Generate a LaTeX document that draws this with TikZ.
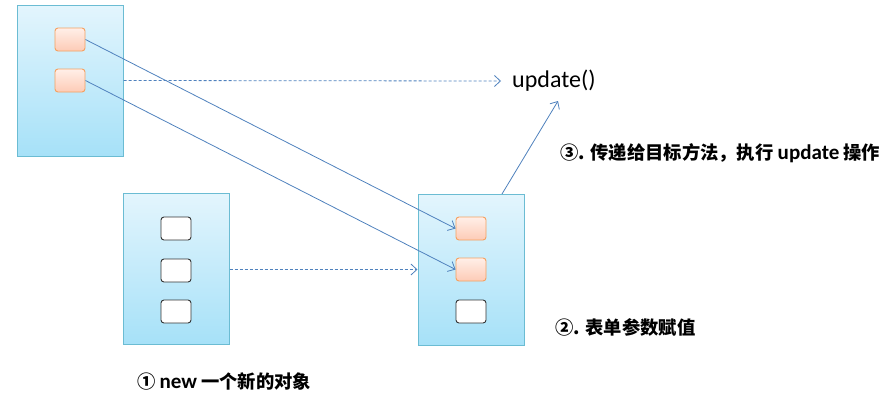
\documentclass[tikz,border=0pt]{standalone}
\usepackage{fontspec}
\usetikzlibrary{arrows.meta,calc}
\setmainfont{Carlito}
\newfontfamily\cjk{Noto Sans CJK SC}
\newfontfamily\latb[Scale=1.15]{Carlito}
\definecolor{lineblue}{HTML}{4F81BD}
\definecolor{boxtop}{HTML}{E3F5FD}
\definecolor{boxbot}{HTML}{A6E1F8}
\definecolor{boxdraw}{HTML}{6BBCD3}
\definecolor{ortop}{HTML}{FFEFE8}
\definecolor{orbot}{HTML}{FDCBB6}
\definecolor{ordraw}{HTML}{F5A060}
\begin{document}
\begin{tikzpicture}[x=1pt,y=-1pt,
  bigbox/.style={draw=boxdraw,line width=1pt,top color=boxtop,bottom color=boxbot,minimum width=106pt,minimum height=151pt,inner sep=0pt},
  orbox/.style={draw=ordraw,line width=0.9pt,top color=ortop,bottom color=orbot,rounded corners=3pt,minimum width=30pt,minimum height=23pt,inner sep=0pt},
  whbox/.style={draw=black!80,line width=0.9pt,fill=white,rounded corners=3pt,minimum width=30pt,minimum height=23pt,inner sep=0pt},
  link/.style={draw=lineblue,line width=0.8pt,-{Straight Barb[length=6pt,width=11pt]}},
  dlink/.style={link,dash pattern=on 3pt off 2pt},
  lbl/.style={font=\cjk\bfseries\fontsize{18.3}{21}\selectfont,anchor=west,inner sep=0pt}]
\useasboundingbox (0,0) rectangle (887,405);
% boxes
\node[bigbox] (A) at (70,80.5) {};
\node[bigbox] (B) at (176,269) {};
\node[bigbox] (C) at (471,269.5) {};
\node[orbox] (a1) at (70,39.5) {};
\node[orbox] (a2) at (70,80.5) {};
\node[whbox] (b1) at (176,228.5) {};
\node[whbox] (b2) at (176,270.5) {};
\node[whbox] (b3) at (176,311.5) {};
\node[orbox] (c1) at (471,228.5) {};
\node[orbox] (c2) at (471,269.5) {};
\node[whbox] (c3) at (471,311.5) {};
% texts
\node[anchor=west,inner sep=0pt,text=black,font=\fontsize{24}{27}\selectfont] (upd) at (512,81) {update()};
\node[lbl] (l3) at (560,153) {③. 传递给目标方法，执行 {\latb\bfseries update} 操作};
\node[lbl] (l2) at (555,327) {②. 表单参数赋值};
\node[lbl] (l1) at (137,381) {① {\latb\bfseries new} 一个新的对象};
% connectors
\coordinate (dend) at (501,81);
\coordinate (cup) at (502,194);
\coordinate (uend) at (558,101);
\draw[link] (a1.east) -- (c1.west);
\draw[link] (a2.east) -- (c2.west);
\draw[dlink] (A.east |- a2.east) -- (dend);
\draw[dlink] (B.east |- c2.west) -- (C.west |- c2.west);
\draw[link] (cup) -- (uend);
\end{tikzpicture}
\end{document}
